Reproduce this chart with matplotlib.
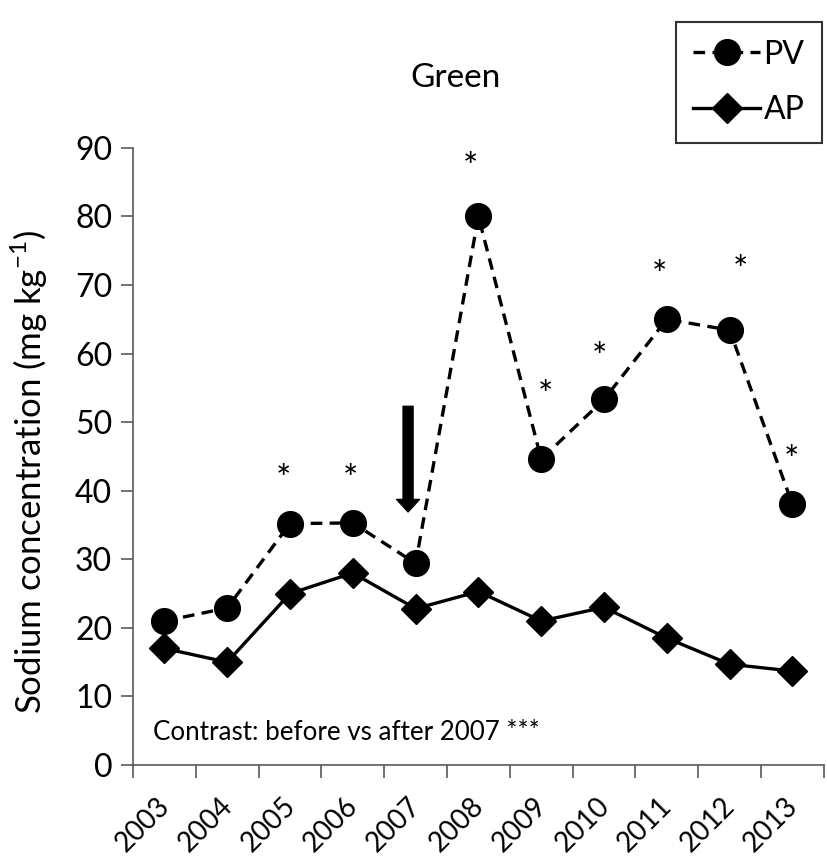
import matplotlib
matplotlib.use("Agg")
import matplotlib.pyplot as plt
import matplotlib.transforms as mtransforms

plt.rcParams['font.family'] = ['Lato', 'DejaVu Sans']

years = ["2003", "2004", "2005", "2006", "2007", "2008",
         "2009", "2010", "2011", "2012", "2013"]
pv = [21.0, 22.9, 35.2, 35.3, 29.4, 80.0, 44.6, 53.3, 65.0, 63.4, 38.0]
ap = [17.0, 15.0, 25.0, 28.0, 22.8, 25.3, 21.0, 23.0, 18.5, 14.7, 13.7]

# significance stars (category index, label height)
star_x = [1.90, 2.97, 4.87, 6.07, 6.92, 7.89, 9.17, 9.99]
star_y = [41.5, 41.5, 87.0, 53.7, 59.3, 71.2, 71.9, 44.2]

x = list(range(len(years)))

fig = plt.figure(figsize=(8.28, 8.67), dpi=100)
ax = fig.add_axes([0.1606, 0.1176, 0.8344, 0.712])

pv_line, = ax.plot(x, pv, color="black", lw=2.4, ls=(0, (3.5, 2.2)),
                   marker="o", markersize=18.5, label="PV", zorder=3)
ap_line, = ax.plot(x, ap, color="black", lw=2.4, ls="-",
                   marker="D", markersize=15, label="AP", zorder=3)

for sx, sy in zip(star_x, star_y):
    ax.text(sx, sy, "*", fontsize=26, ha="center", va="center")

ax.annotate("", xy=(3.88, 36.9), xytext=(3.88, 52.3),
            arrowprops=dict(width=7.2, headwidth=16.5, headlength=9,
                            facecolor="black", edgecolor="black", shrink=0))

ax.text(-0.18, 4.7, "Contrast: before vs after 2007 ***", fontsize=18.7,
        ha="left", va="center")

ax.set_xlim(-0.5, len(years) - 0.5)
ax.set_ylim(0, 90)
ax.set_yticks(range(0, 91, 10))
ax.set_xticks([i - 0.5 for i in range(len(years) + 1)])
ax.set_xticklabels([])

# year labels at category centres, rotated like the original
shift = mtransforms.ScaledTranslation(-8 / 100, -28 / 100, fig.dpi_scale_trans)
for i, yr in zip(x, years):
    ax.text(i, 0, yr, transform=ax.get_xaxis_transform() + shift,
            rotation=45, ha="right", va="top", rotation_mode="anchor",
            fontsize=20)

ax.tick_params(axis="x", which="major", length=9, width=1.2, color="#595959")
ax.tick_params(axis="y", length=9, width=1.2, color="#595959", labelsize=23, pad=6)

for s in ["top", "right"]:
    ax.spines[s].set_visible(False)
for s in ["left", "bottom"]:
    ax.spines[s].set_color("#595959")
    ax.spines[s].set_linewidth(1.2)

ax.set_ylabel("Sodium concentration (mg kg$^{\\mathregular{-1}}$)", fontsize=25)
ax.yaxis.set_label_coords(-0.12, 0.4746)

fig.text(456 / 828, 1 - 78 / 867, "Green", fontsize=24, ha="center", va="center")

leg = fig.legend(handles=[pv_line, ap_line], loc="upper right",
                 bbox_to_anchor=(822 / 828, 1 - 22 / 867), fontsize=23,
                 frameon=True, fancybox=False, edgecolor="black",
                 handlelength=2.1, handletextpad=0.1, labelspacing=0.8,
                 borderpad=0.55, borderaxespad=0)
leg.get_frame().set_linewidth(1.5)

fig.savefig("out.png", dpi=100)
